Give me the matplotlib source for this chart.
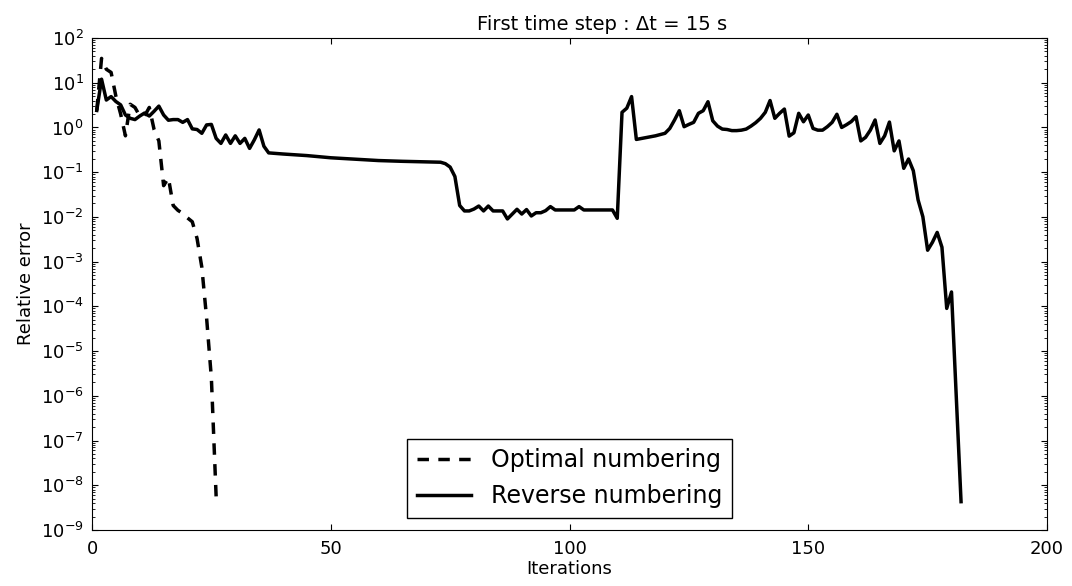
import matplotlib
matplotlib.use("Agg")
import matplotlib.pyplot as plt
from matplotlib.ticker import LogLocator, NullFormatter

# Optimal numbering (dashed)
opt_iter = [1, 2, 3, 4, 5, 6, 7, 8, 9, 10, 11, 12, 13, 14, 15, 16, 17, 18, 19, 20,
            21, 22, 23, 24, 25, 26]
opt_err = [2.4, 35, 20, 17, 5.0, 2.0, 0.65, 3.3, 2.8, 1.8, 1.8, 2.8, 0.9, 0.5, 0.05,
           0.075, 0.018, 0.014, 0.012, 0.0095, 0.0078, 0.0033, 7.5e-4, 5.5e-5,
           2.5e-6, 5.5e-9]

# Reverse numbering (solid)
rev_iter = [1, 2, 3, 4, 5, 6, 7, 8, 9, 10, 11, 12, 13, 14, 15, 16, 17, 18, 19, 20,
            21, 22, 23, 24, 25, 26, 27, 28, 29, 30, 31, 32, 33, 34, 35, 36, 37,
            40, 45, 50, 55, 60, 65, 70, 73, 74, 75, 76, 77, 78, 79, 80, 81, 82,
            83, 84, 85, 86, 87, 88, 89, 90, 91, 92, 93, 94, 95, 96, 97, 98, 99,
            100, 101, 102, 103, 104, 105, 106, 107, 108, 109, 110, 111, 112, 113,
            114, 118, 120, 121, 122, 123, 124, 125, 126, 127, 128, 129, 130, 131,
            132, 133, 134, 135, 136, 137, 138, 139, 140, 141, 142, 143, 144, 145,
            146, 147, 148, 149, 150, 151, 152, 153, 154, 155, 156, 157, 158, 159,
            160, 161, 162, 163, 164, 165, 166, 167, 168, 169, 170, 171, 172, 173,
            174, 175, 176, 177, 178, 179, 180, 182]
rev_err = [2.4, 12, 4.1, 4.9, 3.8, 3.2, 1.9, 1.6, 1.5, 1.8, 2.1, 1.8, 2.3, 3.0, 1.9,
           1.45, 1.5, 1.5, 1.3, 1.5, 0.93, 0.9, 0.74, 1.14, 1.17, 0.57, 0.44, 0.68,
           0.44, 0.65, 0.44, 0.57, 0.34, 0.53, 0.88, 0.38, 0.27,
           0.255, 0.235, 0.21, 0.195, 0.182, 0.175, 0.17, 0.167, 0.155, 0.13, 0.08,
           0.018, 0.0136, 0.0136, 0.015, 0.0175, 0.0136, 0.0175, 0.0136, 0.0136,
           0.0136, 0.009, 0.0115, 0.0148, 0.0116, 0.0146, 0.0105, 0.0124, 0.0124,
           0.0138, 0.017, 0.0143, 0.0143, 0.0143, 0.0143, 0.0143, 0.017, 0.0143,
           0.0143, 0.0143, 0.0143, 0.0143, 0.0143, 0.0143, 0.0093, 2.18, 2.7, 4.9,
           0.54, 0.65, 0.74, 0.95, 1.47, 2.37, 1.04, 1.17, 1.3, 2.07, 2.37, 3.76,
           1.41, 1.07, 0.92, 0.9, 0.85, 0.85, 0.87, 0.92, 1.07, 1.28, 1.6, 2.18,
           4.0, 1.6, 2.07, 2.58, 0.64, 0.76, 2.07, 1.34, 1.9, 0.95, 0.87, 0.87,
           1.04, 1.3, 1.97, 1.0, 1.15, 1.35, 1.74, 0.5, 0.6, 0.87, 1.47, 0.44,
           0.65, 1.32, 0.3, 0.5, 0.122, 0.197, 0.108, 0.024, 0.0101, 0.0018,
           0.0027, 0.0045, 0.0021, 9e-5, 2.1e-4, 4.3e-9]

x_ticks = [0, 50, 100, 150, 200]

plt.rcParams['font.family'] = ['DejaVu Sans']
plt.rcParams['xtick.direction'] = 'in'
plt.rcParams['ytick.direction'] = 'in'
plt.rcParams['xtick.top'] = True
plt.rcParams['ytick.right'] = True
plt.rcParams['xtick.major.size'] = 4
plt.rcParams['ytick.major.size'] = 4
plt.rcParams['xtick.minor.size'] = 2
plt.rcParams['ytick.minor.size'] = 2
plt.rcParams['xtick.major.pad'] = 7
plt.rcParams['ytick.major.pad'] = 6

fig = plt.figure(figsize=(10.72, 5.86), dpi=100)
ax = fig.add_axes([92 / 1072, 56 / 586, 955 / 1072, 492 / 586])

ax.plot(opt_iter, opt_err, color='black', linestyle='--', linewidth=2.5,
        dashes=(3.3, 2.7), label='Optimal numbering')
ax.plot(rev_iter, rev_err, color='black', linestyle='-', linewidth=2.5,
        label='Reverse numbering')

ax.set_yscale('log')
ax.set_xlim(0, 200)
ax.set_ylim(1e-9, 1e2)
ax.set_xticks(x_ticks)
ax.yaxis.set_major_locator(LogLocator(base=10, numticks=20))
ax.yaxis.set_minor_locator(LogLocator(base=10, subs=range(2, 10), numticks=20))
ax.yaxis.set_minor_formatter(NullFormatter())
ax.tick_params(labelsize=13)

ax.set_title('First time step : Δt = 15 s', fontsize=14, pad=6, x=0.534)
ax.set_xlabel('Iterations', fontsize=13, labelpad=2)
ax.set_ylabel('Relative error', fontsize=13, labelpad=4)

leg = ax.legend(loc='lower center', bbox_to_anchor=(0.5, 0.024), borderaxespad=0,
                fontsize=17, fancybox=False, framealpha=1, edgecolor='black',
                handlelength=2.3, borderpad=0.42, labelspacing=0.5,
                handletextpad=0.85)
leg.get_frame().set_linewidth(1.0)

fig.savefig('out.png', dpi=100, facecolor='white')
